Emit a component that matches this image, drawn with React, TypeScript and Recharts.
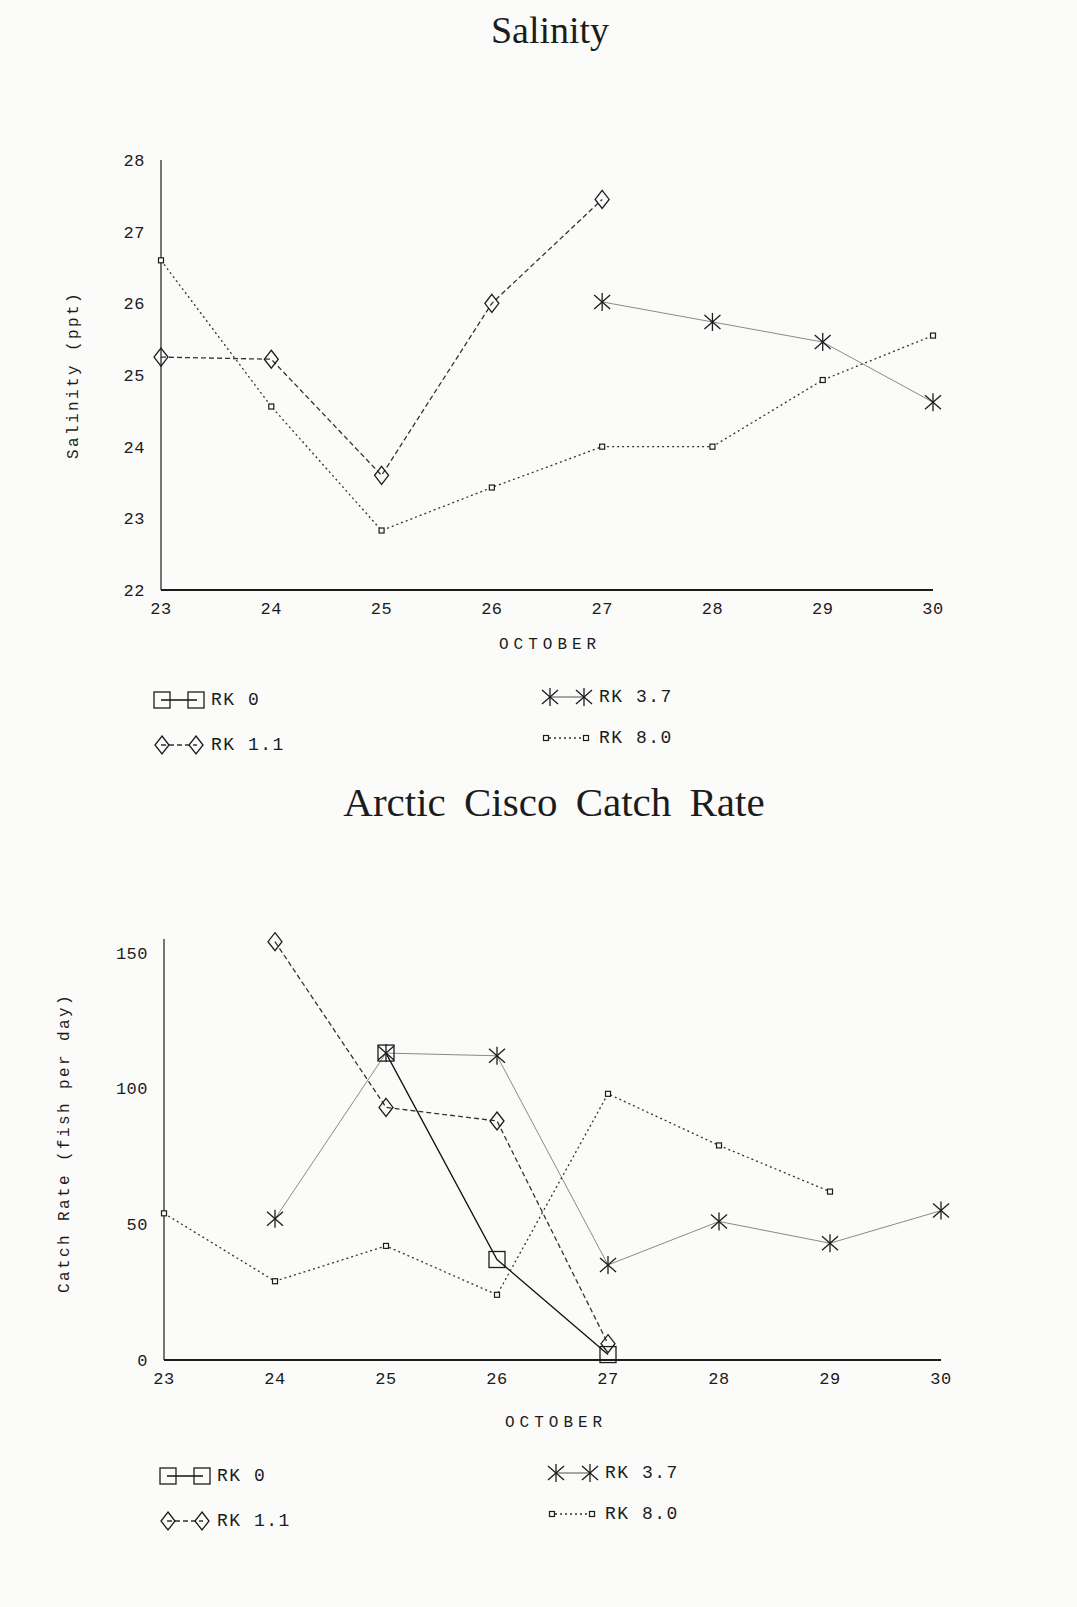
import { LineChart, Line, XAxis, YAxis } from "recharts";

const days = [23, 24, 25, 26, 27, 28, 29, 30];

// Salinity (ppt)
const salRk0: (number | null)[] = [null, null, null, null, null, null, null, null];
const salRk11: (number | null)[] = [25.25, 25.22, 23.6, 26.0, 27.45, null, null, null];
const salRk37: (number | null)[] = [null, null, null, null, 26.02, 25.74, 25.46, 24.62];
const salRk80: (number | null)[] = [26.6, 24.56, 22.83, 23.43, 24.0, 24.0, 24.93, 25.55];
const salTicks = [22, 23, 24, 25, 26, 27, 28];

// Arctic cisco catch rate (fish per day)
const catchRk0: (number | null)[] = [null, null, 113, 37, 2, null, null, null];
const catchRk11: (number | null)[] = [null, 154, 93, 88, 6, null, null, null];
const catchRk37: (number | null)[] = [null, 52, 113, 112, 35, 51, 43, 55];
const catchRk80: (number | null)[] = [54, 29, 42, 24, 98, 79, 62, null];
const catchTicks = [0, 50, 100, 150];

const mono = "'Liberation Mono', 'DejaVu Sans Mono', monospace";
const serif = "'Liberation Serif', 'DejaVu Serif', serif";
const ink = "#1c1c1c";

type Kind = "square" | "diamond" | "star" | "small";

const series = [
  { key: "rk0", name: "RK 0", kind: "square" as Kind, stroke: "#111", dash: undefined, width: 1.3 },
  { key: "rk11", name: "RK 1.1", kind: "diamond" as Kind, stroke: "#333", dash: "5 3", width: 1.3 },
  { key: "rk37", name: "RK 3.7", kind: "star" as Kind, stroke: "#8a8a8a", dash: undefined, width: 1 },
  { key: "rk80", name: "RK 8.0", kind: "small" as Kind, stroke: "#333", dash: "2 3", width: 1.3 },
];

function rows(a: (number | null)[], b: (number | null)[], c: (number | null)[], d: (number | null)[]) {
  return days.map((day, i) => ({ day, rk0: a[i], rk11: b[i], rk37: c[i], rk80: d[i] }));
}

const salData = rows(salRk0, salRk11, salRk37, salRk80);
const catchData = rows(catchRk0, catchRk11, catchRk37, catchRk80);

function Marker({ kind, cx, cy }: { kind: Kind; cx: number; cy: number }) {
  const s = { fill: "none", stroke: ink, strokeWidth: 1.3 };
  if (kind === "square") return <rect x={cx - 8} y={cy - 8} width={16} height={16} {...s} />;
  if (kind === "diamond")
    return <polygon points={`${cx},${cy - 9} ${cx + 7},${cy} ${cx},${cy + 9} ${cx - 7},${cy}`} {...s} />;
  if (kind === "small")
    return <rect x={cx - 2.5} y={cy - 2.5} width={5} height={5} fill="#fbfbfa" stroke={ink} strokeWidth={1.2} />;
  return (
    <g stroke={ink} strokeWidth={1.3}>
      <line x1={cx} y1={cy - 9} x2={cx} y2={cy + 9} />
      <line x1={cx - 8} y1={cy - 7} x2={cx + 8} y2={cy + 7} />
      <line x1={cx - 8} y1={cy + 7} x2={cx + 8} y2={cy - 7} />
    </g>
  );
}

function dotFor(kind: Kind) {
  return (props: any) => {
    const { cx, cy, index, value } = props;
    if (value == null || cx == null || cy == null || Number.isNaN(cy)) return <g key={`d${index}`} />;
    return (
      <g key={`d${index}`}>
        <Marker kind={kind} cx={cx} cy={cy} />
      </g>
    );
  };
}

function LegendBlock({ top, left }: { top: number; left: number }) {
  const items = [
    { s: series[0], x: 0, y: 0 },
    { s: series[1], x: 0, y: 45 },
    { s: series[2], x: 388, y: -3 },
    { s: series[3], x: 388, y: 38 },
  ];
  return (
    <>
      {items.map(({ s, x, y }) => (
        <div
          key={s.key}
          style={{ position: "absolute", left: left + x, top: top + y, display: "flex", alignItems: "center" }}
        >
          <svg width={54} height={22}>
            <line x1={8} y1={11} x2={44} y2={11} stroke={s.stroke} strokeWidth={s.width + 0.3} strokeDasharray={s.dash} />
            <Marker kind={s.kind} cx={s.kind === "small" ? 5 : 9} cy={11} />
            <Marker kind={s.kind} cx={s.kind === "small" ? 45 : 43} cy={11} />
          </svg>
          <span style={{ fontFamily: mono, fontSize: 18, letterSpacing: 1.5, color: ink, marginLeft: 4 }}>{s.name}</span>
        </div>
      ))}
    </>
  );
}

function Chart({ data, domain, ticks, margin, height }: any) {
  return (
    <LineChart width={1077} height={height} data={data} margin={margin}>
      <XAxis
        dataKey="day"
        type="number"
        domain={[23, 30]}
        ticks={days}
        tickSize={0}
        tickMargin={12}
        axisLine={{ stroke: ink, strokeWidth: 2.2 }}
        tick={{ fontFamily: mono, fontSize: 17, fill: ink, letterSpacing: 0.5 }}
      />
      <YAxis
        type="number"
        domain={domain}
        ticks={ticks}
        width={60}
        tickSize={0}
        tickMargin={16}
        axisLine={{ stroke: ink, strokeWidth: 1.2 }}
        tick={{ fontFamily: mono, fontSize: 17, fill: ink, letterSpacing: 0.5 }}
      />
      {series.map((s) => (
        <Line
          key={s.key}
          dataKey={s.key}
          name={s.name}
          stroke={s.stroke}
          strokeWidth={s.width}
          strokeDasharray={s.dash}
          dot={dotFor(s.kind)}
          activeDot={false}
          connectNulls={false}
          isAnimationActive={false}
        />
      ))}
    </LineChart>
  );
}

const axisText = { position: "absolute" as const, fontFamily: mono, color: ink, whiteSpace: "nowrap" as const };

export default function App() {
  return (
    <div style={{ position: "absolute", left: 0, top: 0, width: 1077, height: 1607, background: "#fbfbfa", overflow: "hidden" }}>
      <div style={{ position: "absolute", left: 0, top: 8, width: 1100, textAlign: "center", fontFamily: serif, fontSize: 38, color: ink }}>
        Salinity
      </div>
      <div style={{ position: "absolute", top: 0, left: 0 }}>
        <Chart data={salData} domain={[22, 28]} ticks={salTicks} height={700} margin={{ top: 160, right: 144, left: 101, bottom: 80 }} />
      </div>
      <div style={{ ...axisText, left: 499, top: 636, fontSize: 16, letterSpacing: 5 }}>OCTOBER</div>
      <div style={{ ...axisText, left: 74, top: 375, fontSize: 16, letterSpacing: 2.4, transform: "translate(-50%, -50%) rotate(-90deg)" }}>
        Salinity (ppt)
      </div>
      <LegendBlock top={689} left={153} />

      <div style={{ position: "absolute", left: 0, top: 778, width: 1108, textAlign: "center", fontFamily: serif, fontSize: 41, wordSpacing: 8, color: ink }}>
        Arctic Cisco Catch Rate
      </div>
      <div style={{ position: "absolute", top: 850, left: 0 }}>
        <Chart data={catchData} domain={[0, 155]} ticks={catchTicks} height={560} margin={{ top: 89, right: 136, left: 104, bottom: 20 }} />
      </div>
      <div style={{ ...axisText, left: 505, top: 1414, fontSize: 16, letterSpacing: 5 }}>OCTOBER</div>
      <div style={{ ...axisText, left: 65, top: 1143, fontSize: 16, letterSpacing: 2.4, transform: "translate(-50%, -50%) rotate(-90deg)" }}>
        Catch Rate (fish per day)
      </div>
      <LegendBlock top={1465} left={159} />
    </div>
  );
}
